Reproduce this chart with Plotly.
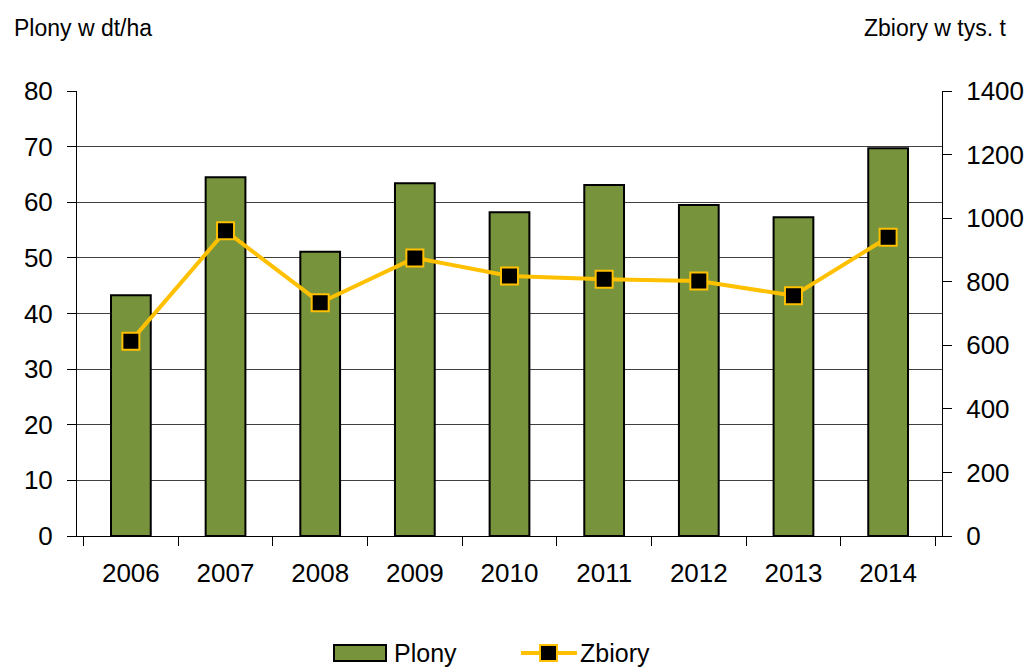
import plotly.graph_objects as go

years = ["2006", "2007", "2008", "2009", "2010", "2011", "2012", "2013", "2014"]
plony = [43.3, 64.5, 51.1, 63.4, 58.2, 63.1, 59.5, 57.3, 69.7]
zbiory = [613, 960, 734, 875, 818, 808, 802, 756, 940]

FONT = "Liberation Sans, Arial, sans-serif"
BAR_COLOR = "#77933C"
LINE_COLOR = "#FFC000"

W, H = 1029, 669
# plot area in window pixels
L, R, T, B = 77, 942, 91, 536
PW, PH = R - L, B - T


def px(x):
    return (x - L) / PW


def py(y):
    return (B - y) / PH


fig = go.Figure()
fig.add_trace(go.Bar(
    x=years, y=plony, name="Plony",
    marker=dict(color=BAR_COLOR, line=dict(color="#000000", width=2)),
    yaxis="y", showlegend=False,
))
fig.add_trace(go.Scatter(
    x=years, y=zbiory, name="Zbiory", mode="lines+markers",
    line=dict(color=LINE_COLOR, width=4),
    marker=dict(symbol="square", size=17, color="#000000",
                line=dict(color=LINE_COLOR, width=2)),
    yaxis="y2", showlegend=False,
))

shapes = [
    dict(type="rect", xref="paper", yref="paper",
         x0=px(334), x1=px(386), y0=py(661), y1=py(645),
         fillcolor=BAR_COLOR, line=dict(color="#000000", width=2), layer="above"),
    dict(type="line", xref="paper", yref="paper",
         x0=px(521), x1=px(577), y0=py(653), y1=py(653),
         line=dict(color=LINE_COLOR, width=4), layer="above"),
    dict(type="rect", xref="paper", yref="paper",
         x0=px(540), x1=px(557), y0=py(661), y1=py(645),
         fillcolor="#000000", line=dict(color=LINE_COLOR, width=2), layer="above"),
]

annotations = [
    dict(text="Plony w dt/ha", xref="paper", yref="paper", x=px(12), y=py(28),
         xanchor="left", yanchor="middle", showarrow=False,
         font=dict(size=23, family=FONT)),
    dict(text="Zbiory w tys. t", xref="paper", yref="paper", x=px(1008), y=py(28),
         xanchor="right", yanchor="middle", showarrow=False,
         font=dict(size=23, family=FONT)),
    dict(text="Plony", xref="paper", yref="paper", x=px(392), y=py(653),
         xanchor="left", yanchor="middle", showarrow=False,
         font=dict(size=25, family=FONT)),
    dict(text="Zbiory", xref="paper", yref="paper", x=px(578), y=py(653),
         xanchor="left", yanchor="middle", showarrow=False,
         font=dict(size=25, family=FONT)),
]

TICKFONT = dict(size=26, family=FONT)

fig.update_layout(
    width=W, height=H,
    margin=dict(l=L, r=W - R, t=T, b=H - B, autoexpand=False),
    paper_bgcolor="white", plot_bgcolor="white",
    font=dict(family=FONT, color="#000000", size=22),
    bargap=0.58,
    showlegend=False,
    hovermode=False,
    xaxis=dict(
        showgrid=False, showline=True, linecolor="#000000", linewidth=1,
        ticks="outside", ticklen=9, tickcolor="#000000", tickson="boundaries",
        tickfont=TICKFONT, ticklabelstandoff=14,
    ),
    yaxis=dict(
        range=[0, 80], dtick=10, showgrid=True, gridcolor="#404040", gridwidth=1,
        showline=True, linecolor="#000000", linewidth=1,
        ticks="outside", ticklen=9, tickcolor="#000000",
        tickfont=TICKFONT, zeroline=False, ticklabelstandoff=9,
    ),
    yaxis2=dict(
        range=[0, 1400], dtick=200, overlaying="y", side="right", showgrid=False,
        showline=True, linecolor="#000000", linewidth=1,
        ticks="outside", ticklen=9, tickcolor="#000000",
        tickfont=TICKFONT, zeroline=False, ticklabelstandoff=9,
    ),
    shapes=shapes,
    annotations=annotations,
)

fig.write_html(
    "out.html",
    config={"displayModeBar": False, "staticPlot": True},
    post_script="document.body.style.margin='0';document.body.style.overflow='hidden';",
)
